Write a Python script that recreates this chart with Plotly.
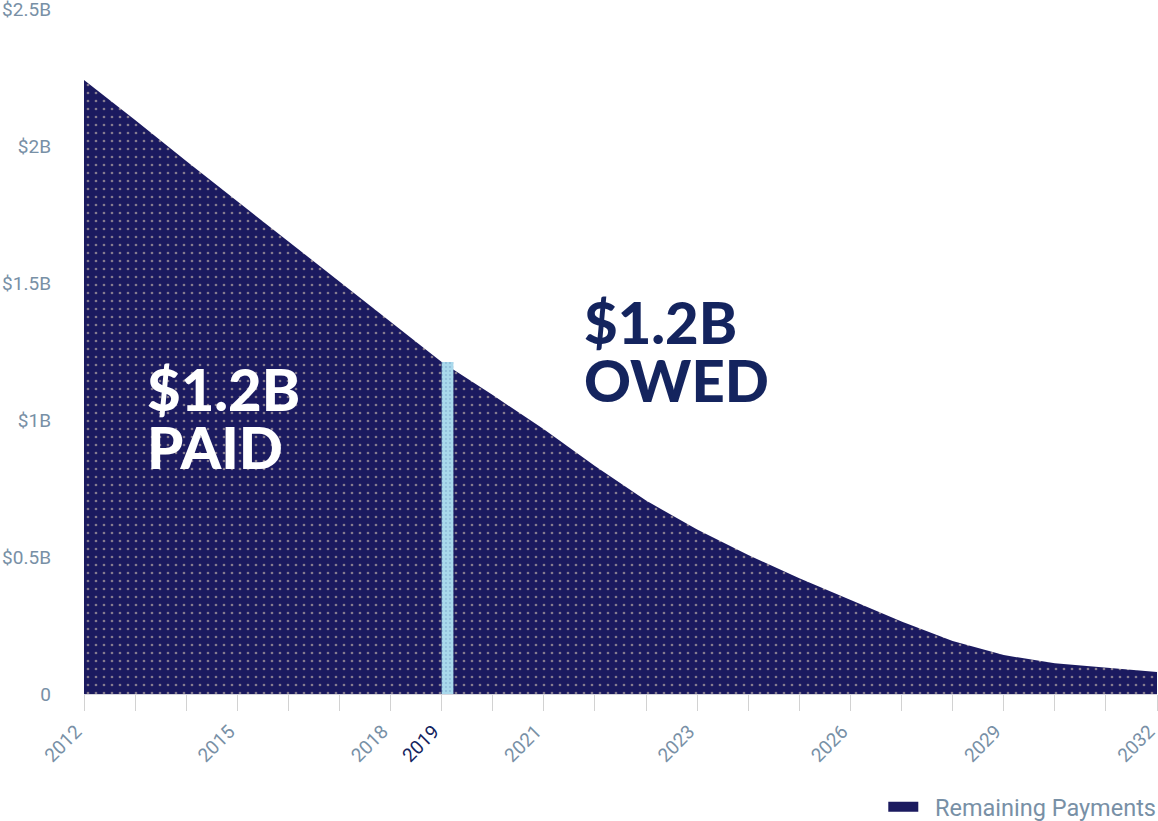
import plotly.graph_objects as go

# ---- data ----
period_index = list(range(22))
remaining_b = [2.241, 2.095, 1.945, 1.799, 1.653, 1.507, 1.358, 1.212,
               1.091, 0.966, 0.832, 0.706, 0.600, 0.507, 0.422, 0.343,
               0.265, 0.193, 0.142, 0.112, 0.095, 0.080]
label_index = [0, 3, 6, 7, 9, 12, 15, 18, 21]
label_text = ["2012", "2015", "2018", "2019", "2021", "2023", "2026", "2029", "2032"]
current_index = 7
current_label = "2019"
band_width = 0.23
y_ticks = [0, 0.5, 1, 1.5, 2, 2.5]
y_tick_text = ["0", "$0.5B", "$1B", "$1.5B", "$2B", "$2.5B"]
series_name = "Remaining Payments"
paid_text = ["$1.2B", "PAID"]
owed_text = ["$1.2B", "OWED"]

NAVY = "#1b1a5f"
DARK = "#14245e"
GREY = "#7890a6"
SPECK = "#efdcc0"
BAND = "#a9d9ec"

fig = go.Figure()
fig.add_trace(go.Scatter(
    x=period_index, y=remaining_b, name=series_name, showlegend=False,
    mode="lines", line=dict(color=NAVY, width=0),
    fill="tozeroy", fillcolor=NAVY,
    fillpattern=dict(shape=".", fgcolor=SPECK, bgcolor=NAVY, size=8, solidity=0.09),
    hoverinfo="skip",
))
# current-year band
fig.add_trace(go.Scatter(
    x=[current_index, current_index + band_width],
    y=[remaining_b[current_index], remaining_b[current_index]],
    mode="lines", line=dict(width=0, color=BAND), fill="tozeroy", fillcolor=BAND,
    fillpattern=dict(shape=".", fgcolor="#6d98c0", bgcolor=BAND, size=4, solidity=0.18),
    showlegend=False, hoverinfo="skip",
))
# legend entry
fig.add_trace(go.Scatter(
    x=[None], y=[None], mode="lines", name="\u00a0\u00a0" + series_name,
    line=dict(color=NAVY, width=12),
))

ticktext = [f"<span style='color:{DARK}'>{t}</span>" if t == current_label else t for t in label_text]

big = dict(family="Lato, sans-serif", size=58, color="white", weight=900)
big_dark = dict(big, color=DARK)

fig.update_layout(
    width=1158, height=821,
    margin=dict(l=84, r=1, t=9, b=127, autoexpand=False),
    paper_bgcolor="white", plot_bgcolor="white",
    font=dict(family="Roboto, Liberation Sans, sans-serif", color=GREY, size=19),
    showlegend=True,
    legend=dict(x=1.004, xanchor="right", xref="paper",
                y=-0.165, yanchor="middle", yref="paper",
                orientation="h", font=dict(size=23.5, color=GREY),
                bgcolor="rgba(0,0,0,0)", borderwidth=0),
    xaxis=dict(range=[0, 21], tickmode="array", tickvals=label_index, ticktext=ticktext,
               tickangle=-45, ticks="outside", ticklen=16, tickcolor="#d2d2d2",
               minor=dict(dtick=1, tick0=0, ticks="outside", ticklen=16, tickcolor="#d2d2d2"),
               showgrid=False, zeroline=False, showline=True, linecolor="#d6d6de", linewidth=1,
               ticklabelstandoff=2, ticklabelshift=-8, ticklabeloverflow="allow", automargin=False,
               tickfont=dict(size=19, color=GREY), fixedrange=True),
    yaxis=dict(range=[0, 2.5], tickmode="array", tickvals=y_ticks, ticktext=y_tick_text,
               showgrid=False, zeroline=False, showline=False, ticks="",
               ticklabelstandoff=32, ticklabeloverflow="allow", automargin=False,
               tickfont=dict(size=19, color=GREY), fixedrange=True),
    annotations=[
        dict(x=1.2, y=1.115, xref="x", yref="y", xanchor="left", yanchor="middle",
             text=paid_text[0], showarrow=False, font=big),
        dict(x=1.2, y=0.905, xref="x", yref="y", xanchor="left", yanchor="middle",
             text=paid_text[1], showarrow=False, font=big),
        dict(x=9.75, y=1.36, xref="x", yref="y", xanchor="left", yanchor="middle",
             text=owed_text[0], showarrow=False, font=big_dark),
        dict(x=9.75, y=1.148, xref="x", yref="y", xanchor="left", yanchor="middle",
             text=owed_text[1], showarrow=False, font=big_dark),
    ],
)

fig.write_html("out.html", config={"displayModeBar": False},
               post_script="document.body.style.margin='0';document.body.style.overflow='hidden';")
